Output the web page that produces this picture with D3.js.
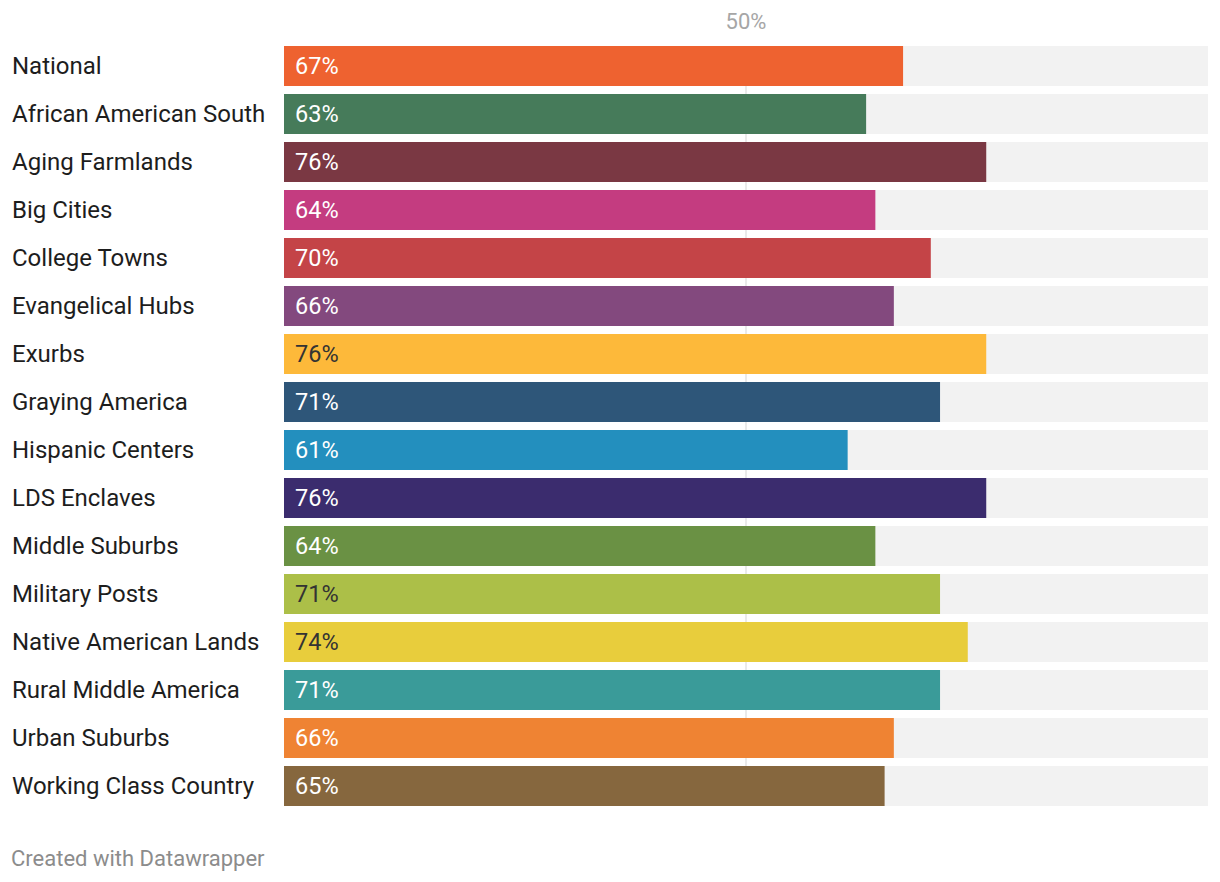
<!DOCTYPE html>
<html><head><meta charset="utf-8">
<script src="https://cdn.jsdelivr.net/npm/d3@7"></script>
<style>body{margin:0;background:#fff;font-family:Roboto,sans-serif}</style>
</head><body><svg id="c" width="1220" height="882"></svg>
<script>
const categories = ["National","African American South","Aging Farmlands","Big Cities","College Towns","Evangelical Hubs","Exurbs","Graying America","Hispanic Centers","LDS Enclaves","Middle Suburbs","Military Posts","Native American Lands","Rural Middle America","Urban Suburbs","Working Class Country"];
const values = [67,63,76,64,70,66,76,71,61,76,64,71,74,71,66,65];
const colors = ["#ee6230","#467b5a","#7a3843","#c43c80","#c44447","#83497e","#fdb93a","#2e5679","#238fbe","#3b2c6e","#6a9144","#acbf48","#e8cd3c","#3a9b99","#ef8333","#86673e"];
const darkText = ["Exurbs","Military Posts","Native American Lands"];
const ticks = [50];

const svg = d3.select("#c");
const x = d3.scaleLinear().domain([0,100]).range([284,1208]);
const yb = d3.scaleBand().domain(categories).range([42,810]).padding(0);

svg.append("g").selectAll("line").data(ticks).join("line")
  .attr("x1",d=>x(d)).attr("x2",d=>x(d)).attr("y1",46).attr("y2",806)
  .attr("stroke","#e3e3e3").attr("stroke-width",1.5);
svg.append("g").selectAll("text").data(ticks).join("text")
  .attr("x",d=>x(d)).attr("y",29).attr("text-anchor","middle")
  .attr("fill","#a6a6a6").attr("font-size",22).text(d=>d+"%");

const rows = svg.append("g").selectAll("g").data(categories).join("g");
rows.append("rect").attr("x",x(0)).attr("width",x(100)-x(0))
  .attr("y",d=>yb(d)+4).attr("height",40).attr("fill","#f2f2f2");
rows.append("rect").attr("x",x(0)).attr("width",(d,i)=>x(values[i])-x(0))
  .attr("y",d=>yb(d)+4).attr("height",40).attr("fill",(d,i)=>colors[i]);
rows.append("text").attr("x",12).attr("y",d=>yb(d)+24).attr("dy","0.35em")
  .attr("font-size",24).attr("fill","#1d1d1d").text(d=>d);
rows.append("text").attr("x",x(0)+11).attr("y",d=>yb(d)+24).attr("dy","0.35em")
  .attr("font-size",23.5).attr("fill",d=>darkText.includes(d)?"#333":"#fff")
  .text((d,i)=>values[i]+"%");

svg.append("text").attr("x",11).attr("y",866).attr("font-size",22).attr("fill","#8c8c8c")
  .text("Created with Datawrapper");
</script></body></html>
